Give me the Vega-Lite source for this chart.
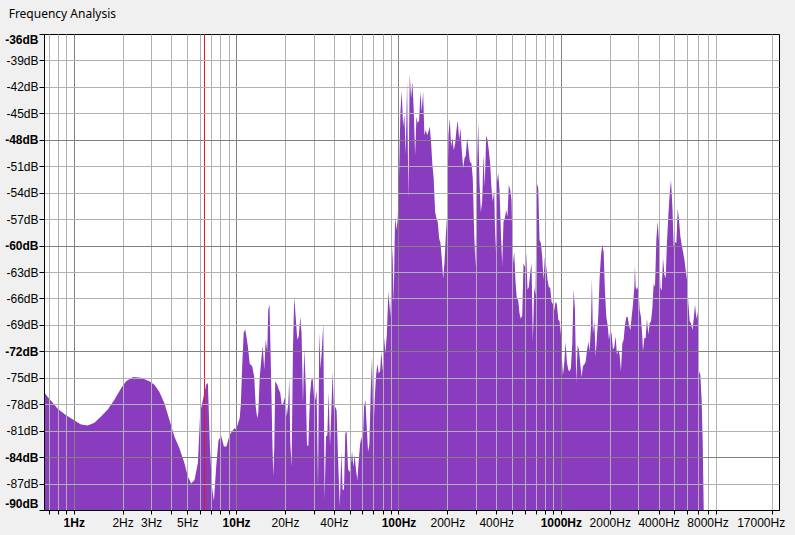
{
  "$schema": "https://vega.github.io/schema/vega-lite/v6.json",
  "width": 735,
  "height": 476,
  "padding": {"left": 4, "top": 8, "right": 17, "bottom": 10},
  "background": "#f0f0f0",
  "title": {"text": "Frequency Analysis", "anchor": "start", "frame": "bounds", "dx": 4, "offset": 12, "font": "Noto Sans", "fontSize": 12, "fontWeight": "normal", "color": "#000000"},
  "config": {"view": {"stroke": "#000000", "strokeWidth": 1, "fill": "#ffffff"}},
  "datasets": {
    "spectrum": [
      {"freq": 0.659, "db": -76.7}, {"freq": 0.701, "db": -77.3}, {"freq": 0.797, "db": -78.5}, {"freq": 0.888, "db": -79.2},
      {"freq": 1.0, "db": -79.8}, {"freq": 1.109, "db": -80.3}, {"freq": 1.22, "db": -80.4}, {"freq": 1.34, "db": -80.1},
      {"freq": 1.473, "db": -79.4}, {"freq": 1.62, "db": -78.6}, {"freq": 1.78, "db": -77.5}, {"freq": 1.957, "db": -76.2},
      {"freq": 2.101, "db": -75.4}, {"freq": 2.321, "db": -74.9}, {"freq": 2.6, "db": -75.0}, {"freq": 2.924, "db": -75.4},
      {"freq": 3.14, "db": -75.8}, {"freq": 3.371, "db": -76.6}, {"freq": 3.619, "db": -77.9}, {"freq": 3.886, "db": -79.8},
      {"freq": 4.172, "db": -81.7}, {"freq": 4.477, "db": -83.0}, {"freq": 4.807, "db": -84.7}, {"freq": 5.045, "db": -86.2},
      {"freq": 5.287, "db": -87.0}, {"freq": 5.541, "db": -86.6}, {"freq": 5.815, "db": -84.7}, {"freq": 6.008, "db": -79.0},
      {"freq": 6.243, "db": -77.5}, {"freq": 6.544, "db": -75.8}, {"freq": 6.703, "db": -75.6}, {"freq": 6.896, "db": -82.8},
      {"freq": 7.094, "db": -87.3}, {"freq": 7.298, "db": -89.0}, {"freq": 7.54, "db": -85.1}, {"freq": 7.789, "db": -82.1},
      {"freq": 8.094, "db": -81.6}, {"freq": 8.411, "db": -82.8}, {"freq": 8.727, "db": -82.8}, {"freq": 9.107, "db": -81.5},
      {"freq": 9.775, "db": -80.7}, {"freq": 10.01, "db": -80.9}, {"freq": 10.3, "db": -80.1}, {"freq": 10.52, "db": -79.6},
      {"freq": 10.7, "db": -77.9}, {"freq": 10.9, "db": -73.7}, {"freq": 11.14, "db": -69.9}, {"freq": 11.38, "db": -69.5},
      {"freq": 11.54, "db": -70.2}, {"freq": 11.79, "db": -71.3}, {"freq": 12.13, "db": -73.4}, {"freq": 12.57, "db": -73.7},
      {"freq": 12.93, "db": -74.9}, {"freq": 13.21, "db": -78.3}, {"freq": 13.49, "db": -79.6}, {"freq": 13.69, "db": -79.0},
      {"freq": 13.98, "db": -74.9}, {"freq": 14.28, "db": -73.0}, {"freq": 14.59, "db": -71.4}, {"freq": 14.9, "db": -74.1},
      {"freq": 15.22, "db": -70.7}, {"freq": 15.55, "db": -72.0}, {"freq": 15.77, "db": -67.3}, {"freq": 16.06, "db": -66.7},
      {"freq": 16.39, "db": -74.1}, {"freq": 16.7, "db": -81.7}, {"freq": 16.93, "db": -86.2}, {"freq": 17.18, "db": -83.0},
      {"freq": 17.42, "db": -75.4}, {"freq": 17.92, "db": -75.8}, {"freq": 18.18, "db": -76.2}, {"freq": 18.7, "db": -76.7},
      {"freq": 19.1, "db": -78.1}, {"freq": 19.51, "db": -77.9}, {"freq": 20.08, "db": -77.1}, {"freq": 20.51, "db": -79.4},
      {"freq": 20.96, "db": -77.9}, {"freq": 21.26, "db": -75.0}, {"freq": 21.56, "db": -82.4}, {"freq": 21.96, "db": -85.1},
      {"freq": 22.4, "db": -71.5}, {"freq": 22.81, "db": -65.8}, {"freq": 23.37, "db": -68.6}, {"freq": 23.81, "db": -70.7},
      {"freq": 24.31, "db": -70.3}, {"freq": 24.84, "db": -68.1}, {"freq": 25.3, "db": -69.9}, {"freq": 25.81, "db": -77.9},
      {"freq": 26.29, "db": -71.7}, {"freq": 26.86, "db": -76.0}, {"freq": 27.32, "db": -82.6}, {"freq": 27.83, "db": -82.8},
      {"freq": 28.51, "db": -77.0}, {"freq": 29.04, "db": -75.3}, {"freq": 29.58, "db": -75.0}, {"freq": 30.18, "db": -77.1},
      {"freq": 30.74, "db": -77.5}, {"freq": 31.31, "db": -76.4}, {"freq": 31.94, "db": -87.5}, {"freq": 32.53, "db": -69.8},
      {"freq": 33.14, "db": -74.0}, {"freq": 33.81, "db": -71.5}, {"freq": 34.44, "db": -68.8}, {"freq": 35.08, "db": -88.9},
      {"freq": 35.78, "db": -81.7}, {"freq": 36.46, "db": -81.5}, {"freq": 37.13, "db": -76.6}, {"freq": 37.88, "db": -82.8},
      {"freq": 38.58, "db": -78.8}, {"freq": 39.3, "db": -74.3}, {"freq": 40.09, "db": -79.0}, {"freq": 40.83, "db": -78.3},
      {"freq": 41.59, "db": -78.7}, {"freq": 42.42, "db": -84.0}, {"freq": 43.52, "db": -89.6}, {"freq": 44.46, "db": -83.4},
      {"freq": 45.29, "db": -87.7}, {"freq": 46.19, "db": -87.7}, {"freq": 47.05, "db": -81.3}, {"freq": 47.93, "db": -81.1},
      {"freq": 48.9, "db": -85.3}, {"freq": 49.81, "db": -85.7}, {"freq": 50.74, "db": -85.3}, {"freq": 51.76, "db": -83.3},
      {"freq": 52.73, "db": -85.1}, {"freq": 53.7, "db": -83.8}, {"freq": 54.78, "db": -85.5}, {"freq": 55.8, "db": -86.6},
      {"freq": 56.84, "db": -84.5}, {"freq": 57.99, "db": -82.6}, {"freq": 59.07, "db": -81.7}, {"freq": 60.17, "db": -82.8},
      {"freq": 61.37, "db": -78.3}, {"freq": 62.52, "db": -77.5}, {"freq": 63.68, "db": -80.4}, {"freq": 64.96, "db": -83.4},
      {"freq": 66.17, "db": -82.6}, {"freq": 67.4, "db": -76.8}, {"freq": 68.75, "db": -72.6}, {"freq": 70.05, "db": -81.3},
      {"freq": 71.35, "db": -77.5}, {"freq": 72.78, "db": -74.7}, {"freq": 74.13, "db": -73.4}, {"freq": 75.51, "db": -74.5},
      {"freq": 77.04, "db": -74.3}, {"freq": 78.47, "db": -72.0}, {"freq": 79.93, "db": -74.3}, {"freq": 81.53, "db": -70.5},
      {"freq": 83.05, "db": -72.2}, {"freq": 84.84, "db": -70.0}, {"freq": 86.62, "db": -65.2}, {"freq": 89.14, "db": -68.0},
      {"freq": 91.7, "db": -60.1}, {"freq": 93.41, "db": -66.5}, {"freq": 95.28, "db": -56.7}, {"freq": 97.07, "db": -58.2},
      {"freq": 98.88, "db": -57.1}, {"freq": 100.86, "db": -51.8}, {"freq": 102.73, "db": -45.0}, {"freq": 104.64, "db": -42.4},
      {"freq": 106.75, "db": -46.5}, {"freq": 108.74, "db": -45.1}, {"freq": 110.77, "db": -49.7}, {"freq": 112.98, "db": -41.4},
      {"freq": 115.08, "db": -54.8}, {"freq": 117.25, "db": -40.5}, {"freq": 119.6, "db": -43.3}, {"freq": 121.8, "db": -41.4},
      {"freq": 124.1, "db": -44.6}, {"freq": 126.6, "db": -49.7}, {"freq": 129.0, "db": -45.4}, {"freq": 131.3, "db": -46.1},
      {"freq": 134.0, "db": -45.8}, {"freq": 136.5, "db": -42.5}, {"freq": 139.0, "db": -44.8}, {"freq": 141.8, "db": -42.5},
      {"freq": 144.4, "db": -47.5}, {"freq": 147.2, "db": -46.9}, {"freq": 150.1, "db": -47.5}, {"freq": 152.9, "db": -47.1},
      {"freq": 155.8, "db": -46.5}, {"freq": 158.9, "db": -48.4}, {"freq": 161.8, "db": -50.9}, {"freq": 164.8, "db": -52.4},
      {"freq": 168.1, "db": -56.2}, {"freq": 171.3, "db": -56.9}, {"freq": 174.5, "db": -57.3}, {"freq": 178.0, "db": -59.2},
      {"freq": 181.3, "db": -59.7}, {"freq": 184.7, "db": -61.4}, {"freq": 188.4, "db": -63.7}, {"freq": 191.9, "db": -62.0},
      {"freq": 195.5, "db": -59.0}, {"freq": 199.4, "db": -56.5}, {"freq": 203.1, "db": -47.5}, {"freq": 206.9, "db": -45.6},
      {"freq": 211.0, "db": -48.8}, {"freq": 215.0, "db": -47.8}, {"freq": 218.9, "db": -49.2}, {"freq": 223.4, "db": -48.4},
      {"freq": 227.5, "db": -46.9}, {"freq": 231.7, "db": -45.8}, {"freq": 236.4, "db": -48.0}, {"freq": 240.8, "db": -46.7},
      {"freq": 245.3, "db": -49.2}, {"freq": 250.2, "db": -51.2}, {"freq": 254.9, "db": -50.1}, {"freq": 259.6, "db": -49.8},
      {"freq": 264.8, "db": -47.8}, {"freq": 269.8, "db": -49.1}, {"freq": 275.5, "db": -50.5}, {"freq": 281.5, "db": -50.7},
      {"freq": 286.8, "db": -52.4}, {"freq": 292.5, "db": -58.6}, {"freq": 298.0, "db": -62.4}, {"freq": 303.5, "db": -52.4},
      {"freq": 309.7, "db": -46.0}, {"freq": 315.4, "db": -52.8}, {"freq": 321.3, "db": -56.2}, {"freq": 327.7, "db": -55.0},
      {"freq": 333.8, "db": -49.7}, {"freq": 340.0, "db": -53.3}, {"freq": 346.8, "db": -47.5}, {"freq": 353.3, "db": -48.0},
      {"freq": 359.8, "db": -49.2}, {"freq": 367.1, "db": -50.7}, {"freq": 373.9, "db": -53.5}, {"freq": 380.9, "db": -55.0},
      {"freq": 388.5, "db": -53.7}, {"freq": 395.8, "db": -60.7}, {"freq": 403.1, "db": -52.9}, {"freq": 411.3, "db": -51.8},
      {"freq": 418.9, "db": -53.7}, {"freq": 426.7, "db": -58.2}, {"freq": 435.2, "db": -62.2}, {"freq": 443.3, "db": -57.3},
      {"freq": 451.6, "db": -56.9}, {"freq": 460.7, "db": -56.0}, {"freq": 469.3, "db": -56.7}, {"freq": 478.0, "db": -53.1},
      {"freq": 487.5, "db": -53.7}, {"freq": 496.7, "db": -54.8}, {"freq": 505.9, "db": -62.2}, {"freq": 516.0, "db": -60.7},
      {"freq": 525.6, "db": -64.1}, {"freq": 535.4, "db": -66.0}, {"freq": 546.2, "db": -66.2}, {"freq": 556.4, "db": -67.7},
      {"freq": 566.7, "db": -68.3}, {"freq": 578.1, "db": -67.9}, {"freq": 588.8, "db": -62.0}, {"freq": 599.9, "db": -62.4},
      {"freq": 611.9, "db": -60.9}, {"freq": 623.3, "db": -65.0}, {"freq": 634.9, "db": -64.7}, {"freq": 647.6, "db": -63.1},
      {"freq": 659.7, "db": -62.0}, {"freq": 672.0, "db": -70.9}, {"freq": 685.5, "db": -64.7}, {"freq": 698.2, "db": -65.6},
      {"freq": 711.2, "db": -52.9}, {"freq": 725.6, "db": -53.5}, {"freq": 739.1, "db": -59.4}, {"freq": 752.9, "db": -59.7},
      {"freq": 767.9, "db": -61.3}, {"freq": 782.2, "db": -63.9}, {"freq": 796.9, "db": -61.3}, {"freq": 812.8, "db": -62.4},
      {"freq": 828.0, "db": -63.9}, {"freq": 843.3, "db": -64.7}, {"freq": 860.2, "db": -64.8}, {"freq": 876.4, "db": -66.4},
      {"freq": 892.7, "db": -66.6}, {"freq": 910.6, "db": -67.3}, {"freq": 927.6, "db": -66.4}, {"freq": 944.8, "db": -66.6},
      {"freq": 963.9, "db": -68.4}, {"freq": 981.8, "db": -68.6}, {"freq": 1000, "db": -70.0}, {"freq": 1010, "db": -72.0},
      {"freq": 1029, "db": -74.7}, {"freq": 1049, "db": -73.4}, {"freq": 1069, "db": -70.9}, {"freq": 1089, "db": -73.2},
      {"freq": 1111, "db": -74.1}, {"freq": 1131, "db": -74.3}, {"freq": 1153, "db": -73.9}, {"freq": 1176, "db": -71.1},
      {"freq": 1198, "db": -65.0}, {"freq": 1220, "db": -67.1}, {"freq": 1244, "db": -75.6}, {"freq": 1268, "db": -71.3},
      {"freq": 1291, "db": -71.8}, {"freq": 1317, "db": -73.4}, {"freq": 1342, "db": -74.9}, {"freq": 1367, "db": -73.7},
      {"freq": 1394, "db": -73.5}, {"freq": 1420, "db": -73.2}, {"freq": 1447, "db": -72.0}, {"freq": 1476, "db": -70.9},
      {"freq": 1503, "db": -72.0}, {"freq": 1531, "db": -69.4}, {"freq": 1553, "db": -63.7}, {"freq": 1575, "db": -70.0},
      {"freq": 1607, "db": -68.6}, {"freq": 1637, "db": -72.6}, {"freq": 1667, "db": -70.5}, {"freq": 1701, "db": -67.9},
      {"freq": 1732, "db": -63.7}, {"freq": 1765, "db": -61.2}, {"freq": 1800, "db": -59.9}, {"freq": 1834, "db": -60.7},
      {"freq": 1868, "db": -65.1}, {"freq": 1905, "db": -68.1}, {"freq": 1941, "db": -69.0}, {"freq": 1977, "db": -70.7},
      {"freq": 2017, "db": -69.6}, {"freq": 2054, "db": -70.0}, {"freq": 2093, "db": -71.8}, {"freq": 2135, "db": -71.5},
      {"freq": 2174, "db": -70.3}, {"freq": 2215, "db": -72.4}, {"freq": 2259, "db": -71.8}, {"freq": 2301, "db": -72.4},
      {"freq": 2344, "db": -74.3}, {"freq": 2391, "db": -71.1}, {"freq": 2436, "db": -70.7}, {"freq": 2481, "db": -69.0},
      {"freq": 2531, "db": -68.1}, {"freq": 2578, "db": -68.1}, {"freq": 2626, "db": -69.0}, {"freq": 2679, "db": -69.6},
      {"freq": 2729, "db": -68.1}, {"freq": 2780, "db": -66.7}, {"freq": 2835, "db": -64.7}, {"freq": 2859, "db": -62.2},
      {"freq": 2888, "db": -64.7}, {"freq": 2942, "db": -65.0}, {"freq": 3001, "db": -64.5}, {"freq": 3057, "db": -67.3},
      {"freq": 3114, "db": -68.1}, {"freq": 3176, "db": -70.5}, {"freq": 3203, "db": -72.0}, {"freq": 3267, "db": -70.5},
      {"freq": 3328, "db": -70.5}, {"freq": 3390, "db": -68.3}, {"freq": 3458, "db": -70.1}, {"freq": 3523, "db": -68.8},
      {"freq": 3589, "db": -68.6}, {"freq": 3661, "db": -67.1}, {"freq": 3729, "db": -64.3}, {"freq": 3799, "db": -64.7},
      {"freq": 3875, "db": -59.2}, {"freq": 3947, "db": -57.3}, {"freq": 4021, "db": -59.6}, {"freq": 4101, "db": -64.8},
      {"freq": 4178, "db": -65.1}, {"freq": 4256, "db": -61.4}, {"freq": 4341, "db": -63.3}, {"freq": 4422, "db": -63.7},
      {"freq": 4504, "db": -59.6}, {"freq": 4594, "db": -56.5}, {"freq": 4680, "db": -54.1}, {"freq": 4767, "db": -52.6},
      {"freq": 4862, "db": -55.6}, {"freq": 4953, "db": -60.1}, {"freq": 5045, "db": -59.6}, {"freq": 5147, "db": -59.7},
      {"freq": 5243, "db": -55.8}, {"freq": 5340, "db": -57.1}, {"freq": 5447, "db": -59.0}, {"freq": 5549, "db": -59.9},
      {"freq": 5652, "db": -60.7}, {"freq": 5766, "db": -61.6}, {"freq": 5873, "db": -62.8}, {"freq": 5982, "db": -63.9},
      {"freq": 6103, "db": -66.6}, {"freq": 6216, "db": -68.6}, {"freq": 6332, "db": -68.8}, {"freq": 6459, "db": -69.6},
      {"freq": 6579, "db": -68.3}, {"freq": 6701, "db": -66.7}, {"freq": 6837, "db": -68.3}, {"freq": 6964, "db": -67.5},
      {"freq": 7093, "db": -74.3}, {"freq": 7235, "db": -74.7}, {"freq": 7371, "db": -77.8}, {"freq": 7475, "db": -82.4},
      {"freq": 7582, "db": -90.0}
    ],
    "cursor": [{"freq": 6.385}]
  },
  "layer": [
    {
      "data": {"name": "spectrum"},
      "mark": {"type": "area", "color": "#8a3cbe", "clip": true, "interpolate": "linear"},
      "encoding": {
        "x": {
          "field": "freq", "type": "quantitative",
          "scale": {"type": "log", "domain": [0.656, 22050], "nice": false, "zero": false},
          "axis": {
            "title": null, "zindex": 1,
            "values": [0.7, 0.8, 0.9, 1, 2, 3, 4, 5, 6, 7, 8, 9, 10, 20, 30, 40, 50, 60, 70, 80, 90, 100, 200, 300, 400, 500, 600, 700, 800, 900, 1000, 2000, 3000, 4000, 5000, 6000, 7000, 8000, 9000, 17000, 20000],
            "labelExpr": "indexof([1, 2, 3, 5, 10, 20, 40, 100, 200, 400, 1000, 2000, 4000, 8000, 17000], datum.value) >= 0 ? datum.value + 'Hz' : ''",
            "labelOverlap": false, "labelBound": false, "labelFlush": false,
            "labelFont": "Liberation Sans", "labelFontSize": 12, "labelColor": "#000000", "labelPadding": 3,
            "labelFontWeight": {"condition": {"test": "indexof([1, 10, 100, 1000], datum.value) >= 0", "value": "bold"}, "value": "normal"},
            "tickSize": 4, "tickColor": "#000000",
            "tickOpacity": {"condition": {"test": "datum.value == 17000", "value": 0}, "value": 1},
            "domainColor": "#000000",
            "grid": true,
            "gridColor": {"condition": {"test": "indexof([1, 10, 100, 1000], datum.value) >= 0", "value": "#808080"}, "value": "#b0b0b0"},
            "gridOpacity": {"condition": {"test": "datum.value == 17000", "value": 0}, "value": 1}
          }
        },
        "y": {
          "field": "db", "type": "quantitative",
          "scale": {"domain": [-90, -36], "nice": false, "zero": false},
          "axis": {
            "title": null, "zindex": 1,
            "values": [-36, -39, -42, -45, -48, -51, -54, -57, -60, -63, -66, -69, -72, -75, -78, -81, -84, -87, -90],
            "labelExpr": "datum.value + 'dB'",
            "labelFlush": true, "labelOverlap": false,
            "labelFont": "Liberation Sans", "labelFontSize": 12, "labelColor": "#000000", "labelPadding": 1,
            "labelFontWeight": {"condition": {"test": "datum.value % 12 == 0 || datum.value == -90", "value": "bold"}, "value": "normal"},
            "tickSize": 5, "tickColor": "#000000", "domainColor": "#000000",
            "grid": true,
            "gridColor": {"condition": {"test": "datum.value % 12 == 0", "value": "#808080"}, "value": "#b0b0b0"},
            "gridOpacity": {"condition": {"test": "datum.value == -36 || datum.value == -90", "value": 0}, "value": 1}
          }
        },
        "y2": {"datum": -90}
      }
    },
    {
      "data": {"name": "cursor"},
      "mark": {"type": "rule", "color": "#dc1e1e", "strokeWidth": 1},
      "encoding": {"x": {"field": "freq", "type": "quantitative"}}
    }
  ]
}
